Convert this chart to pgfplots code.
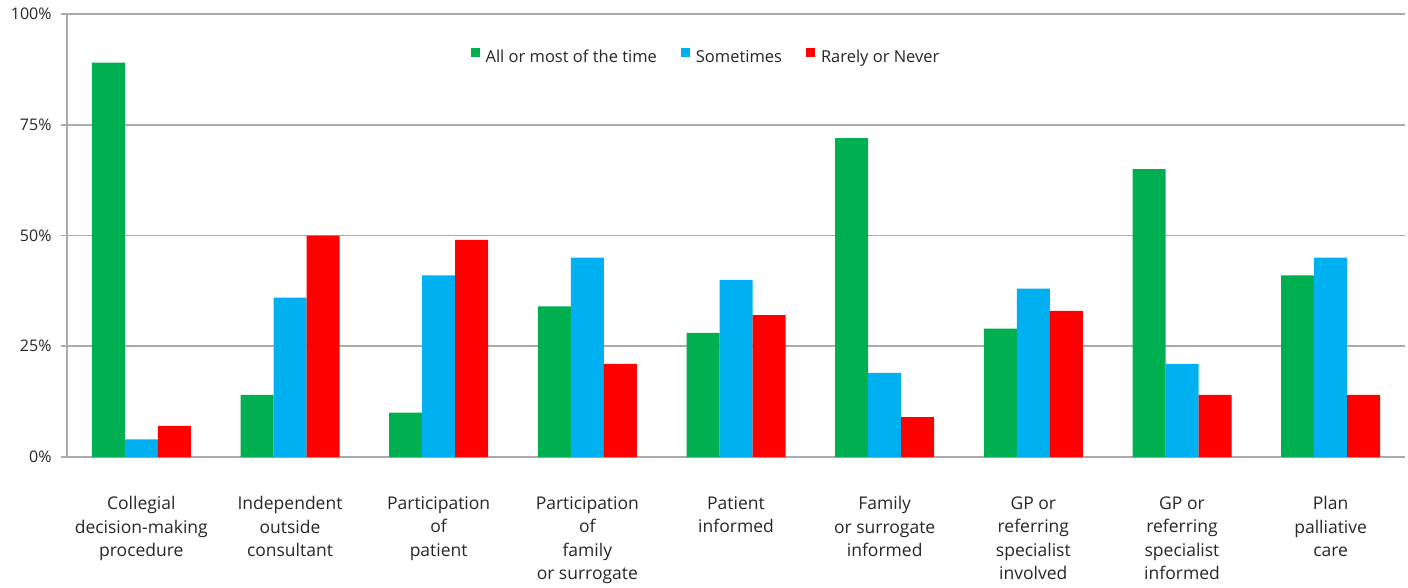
\documentclass[border=0pt]{standalone}
\usepackage{pgfplots}
\pgfplotsset{compat=1.18}
\usepackage{fontspec}
\setmainfont{Open Sans}

\definecolor{cgreen}{HTML}{00B050}
\definecolor{cblue}{HTML}{00B0F0}
\definecolor{cred}{HTML}{FF0000}
\definecolor{gridgray}{HTML}{ABABAB}
\definecolor{txt}{HTML}{262626}

\begin{document}
\begin{tikzpicture}
\begin{axis}[
    scale only axis,
    width=1338pt, height=443pt,
    ybar=0pt, bar width=33pt,
    xmin=-0.5, xmax=8.5,
    ymin=0, ymax=100,
    axis x line*=bottom,
    axis y line*=left,
    axis line style={gridgray, line width=1.8pt, -},
    xtick={0,...,8},
    xticklabels={
        Collegial\\decision-making\\procedure,
        Independent\\outside\\consultant,
        Participation\\of\\patient,
        Participation\\of\\family\\or surrogate,
        Patient\\informed,
        Family\\or surrogate\\informed,
        GP or\\referring\\specialist\\involved,
        GP or\\referring\\specialist\\informed,
        Plan\\palliative\\care},
    xtick style={draw=none},
    xticklabel style={align=center, text=txt,
        font=\fontsize{17.5}{23.5}\selectfont, yshift=-30pt},
    ytick={0,25,50,75,100},
    yticklabels={0\%,25\%,50\%,75\%,100\%},
    tick align=outside,
    major tick length=6pt,
    ytick style={gridgray, line width=1.8pt},
    yticklabel style={text=txt, font=\fontsize{16}{18}\selectfont, xshift=-6pt},
    ymajorgrids,
    grid style={gridgray, line width=1.8pt},
    legend style={draw=none, fill=none, at={(0.4776,0.903)}, anchor=center,
        font=\fontsize{16.5}{19}\selectfont, text=txt,
        /tikz/every odd column/.append style={column sep=4pt},
        /tikz/every even column/.append style={column sep=22pt}},
    legend columns=-1,
    legend image code/.code={\fill[#1] (0pt,0pt) rectangle (9pt,9pt);},
]
\addplot[fill=cgreen, draw=none] coordinates {
    (0,89) (1,14) (2,10) (3,34) (4,28) (5,72) (6,29) (7,65) (8,41)};
\addlegendentry{All or most of the time}
\addplot[fill=cblue, draw=none] coordinates {
    (0,4) (1,36) (2,41) (3,45) (4,40) (5,19) (6,38) (7,21) (8,45)};
\addlegendentry{Sometimes}
\addplot[fill=cred, draw=none] coordinates {
    (0,7) (1,50) (2,49) (3,21) (4,32) (5,9) (6,33) (7,14) (8,14)};
\addlegendentry{Rarely or Never}
\end{axis}
\path ([shift={(-67pt,-125pt)}]current axis.south west)
    rectangle ([shift={(3pt,14pt)}]current axis.north east);
\end{tikzpicture}
\end{document}
